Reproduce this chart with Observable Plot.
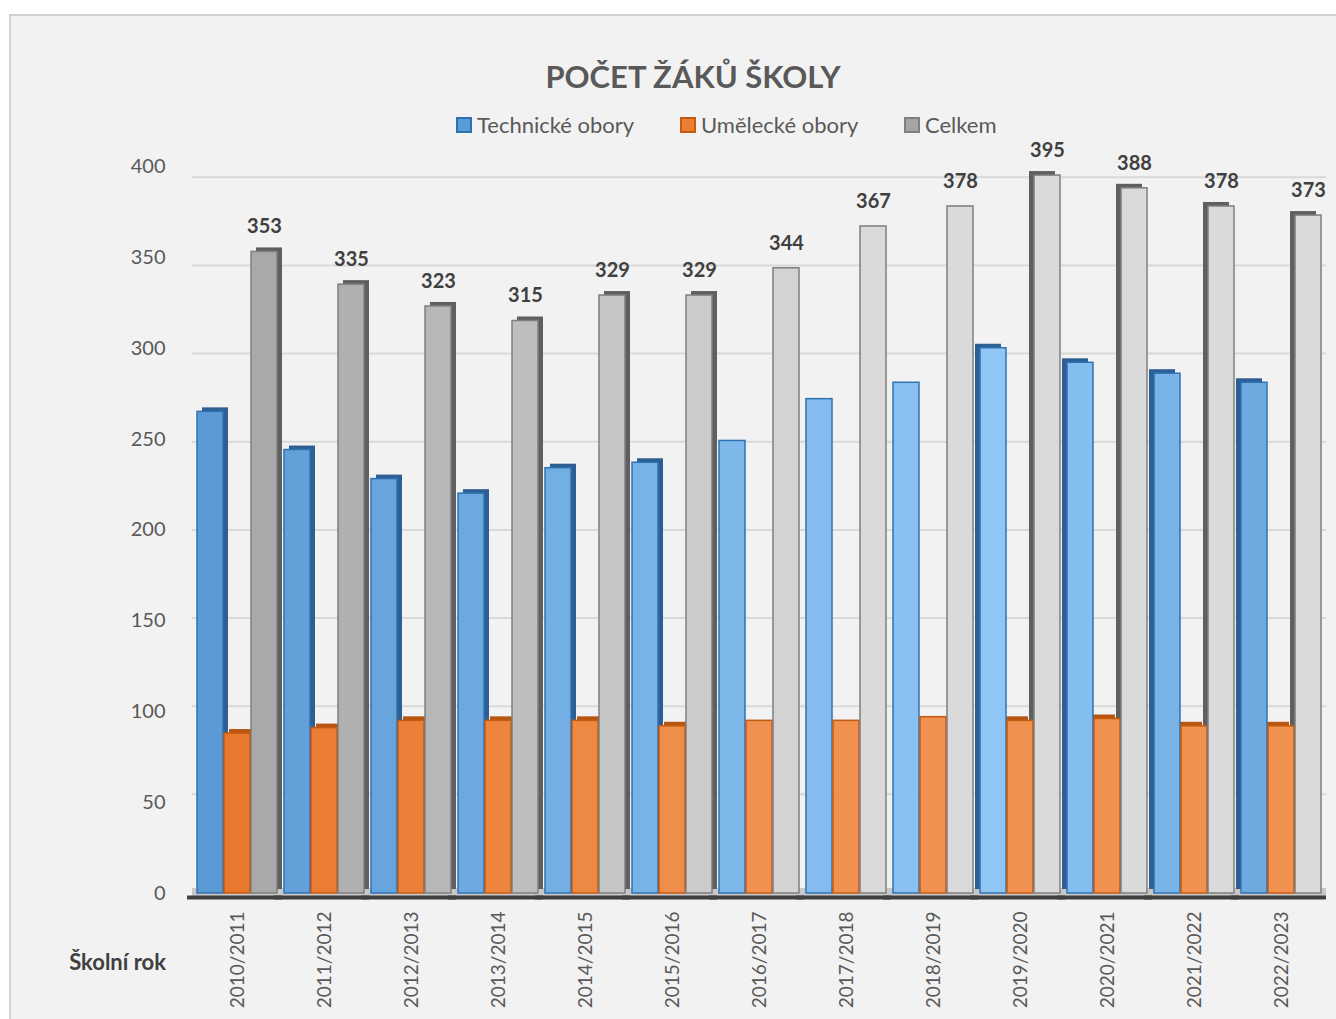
<!DOCTYPE html>
<html>
<head>
<meta charset="utf-8">
<script src="https://cdn.jsdelivr.net/npm/d3@7"></script>
<script src="https://cdn.jsdelivr.net/npm/@observablehq/plot@0.6"></script>
<style>
  body { margin: 0; background: #ffffff; font-family: Lato, "Open Sans", sans-serif; }
  #frame { position: absolute; left: 9px; top: 14px; width: 1340px; height: 1012px; background: #f2f2f2; border: 2px solid #d0d0d0; box-sizing: border-box; }
  #title { position: absolute; left: 50px; top: 56px; width: 1286px; text-align: center; font-size: 31px; font-weight: 700; color: #595959; line-height: 40px; }
  #legend { position: absolute; left: 456px; top: 112px; display: flex; font-size: 22px; color: #595959; line-height: 26px; }
  .item { display: flex; align-items: center; width: 224px; }
  .sw { width: 12px; height: 12px; border: 2px solid; margin-right: 5px; }
  #chart { position: absolute; left: 0; top: 138px; }
  #xtitle { position: absolute; left: 0; top: 948px; width: 166px; text-align: right; font-size: 22px; font-weight: 700; color: #404040; }
  g[aria-label^="fx-axis"] text { font-size: 19px; }
</style>
</head>
<body>
<div id="frame"></div>
<div id="title"></div>
<div id="legend"></div>
<div id="chart"></div>
<div id="xtitle"></div>
<script>
const chartTitle = "POČET ŽÁKŮ ŠKOLY";
const axisTitle = "Školní rok";
const years = ["2010/2011","2011/2012","2012/2013","2013/2014","2014/2015","2015/2016","2016/2017","2017/2018","2018/2019","2019/2020","2020/2021","2021/2022","2022/2023"];
const seriesNames = ["Technické obory","Umělecké obory","Celkem"];
const technicke = [265,244,228,220,234,237,249,272,281,300,292,286,281];
const umelecke  = [88,91,95,95,95,92,95,95,97,95,96,92,92];
const celkem    = [353,335,323,315,329,329,344,367,378,395,388,378,373];
const yTicks = [0,50,100,150,200,250,300,350,400];

const seriesValues = [technicke, umelecke, celkem];
const rows = [];
years.forEach((y, i) => seriesNames.forEach((s, k) => rows.push({year: y, series: s, value: seriesValues[k][i], idx: i})));

// lighting styles (not data)
function frontFill(d) {
  const i = d.idx;
  if (d.series === "Technické obory") {
    const t = i <= 9 ? i / 9 : 1 - (i - 9) * 0.22;
    return d3.interpolateRgb("#5b9bd5", "#90c6f6")(t);
  }
  if (d.series === "Umělecké obory") return d3.interpolateRgb("#e9782f", "#f0914f")(Math.min(1, i / 6));
  return d3.interpolateRgb("#a9a9a9", "#dadada")(Math.min(1, i / 7));
}
const strokeCol = {"Technické obory": "#2f72b3", "Umělecké obory": "#c55a11", "Celkem": "#7f7f7f"};
const sideCol = {"Technické obory": "#2d5f92", "Umělecké obory": "#b85510", "Celkem": "#5f5f5f"};

document.getElementById("title").textContent = chartTitle;
document.getElementById("xtitle").textContent = axisTitle;
const legendFill = {"Technické obory": "#5b9bd5", "Umělecké obory": "#ed7d31", "Celkem": "#a5a5a5"};
const lg = document.getElementById("legend");
seriesNames.forEach(s => {
  const it = document.createElement("div"); it.className = "item";
  const sw = document.createElement("div"); sw.className = "sw";
  sw.style.background = legendFill[s]; sw.style.borderColor = strokeCol[s];
  const tx = document.createElement("span"); tx.textContent = s;
  it.appendChild(sw); it.appendChild(tx); lg.appendChild(it);
});

// geometry: svg top at 138; front value plane y(0)=893, y(400)=166 (page px)
const svgTop = 138;
const y0 = 893 - svgTop, y400 = 166 - svgTop;
// back wall (perspective) gridline offset relative to front plane
const backShift = v => (882 - 1.763 * v) - (893 - 1.8175 * v);

const chart = Plot.plot({
  width: 1336,
  height: 1019 - svgTop,
  marginTop: y400,
  marginBottom: (1019 - svgTop) - y0,
  marginLeft: 192,
  marginRight: 10,
  style: {background: "transparent", fontFamily: "Lato, 'Open Sans', sans-serif", fontSize: "20px", color: "#595959"},
  facet: {data: rows, x: "year"},
  fx: {domain: years, padding: 0.04, label: null, axis: "bottom", tickRotate: -90, tickSize: 0, tickPadding: 18},
  x: {domain: seriesNames, padding: 0.04, axis: null},
  y: {domain: [0, 400], ticks: yTicks, label: null, tickSize: 0, tickPadding: 30},
  marks: [
    ...yTicks.filter(v => v > 0).map(v => Plot.ruleY([v], {stroke: "#d9d9d9", strokeWidth: 2, dy: backShift(v), insetLeft: -3, insetRight: -3})),
    Plot.ruleY([0], {stroke: "#c8c8c8", strokeWidth: 9, dy: -1, insetLeft: -3, insetRight: -3}),
    Plot.barY(rows, {filter: d => d.idx < 6, x: "series", y: "value", fill: d => sideCol[d.series], dx: 5, dy: -4}),
    Plot.barY(rows, {filter: d => d.idx > 8, x: "series", y: "value", fill: d => sideCol[d.series], dx: -5, dy: -4}),
    Plot.barY(rows, {x: "series", y: "value", fill: frontFill, stroke: d => strokeCol[d.series], strokeWidth: 1.5}),
    Plot.text(rows, {filter: d => d.series === "Celkem", x: "series", y: "value", text: d => String(d.value), dy: -25, fontWeight: 700, fontSize: 20, fill: "#404040"}),
    Plot.ruleY([0], {stroke: "#404040", strokeWidth: 4, dy: 4, insetLeft: -8, insetRight: -3})
  ]
});
document.getElementById("chart").appendChild(chart);
</script>
</body>
</html>
